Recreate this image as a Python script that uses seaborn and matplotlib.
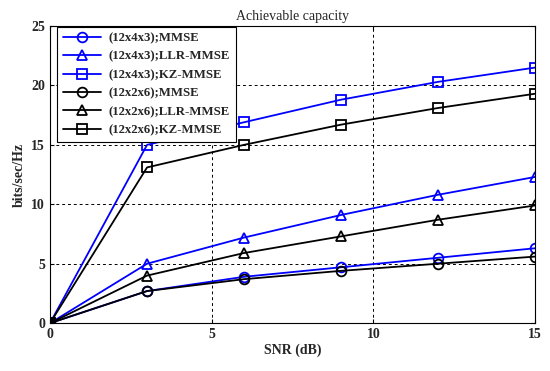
import matplotlib
matplotlib.use("Agg")
import matplotlib.pyplot as plt
import seaborn as sns
import pandas as pd

snr = [0, 3, 6, 9, 12, 15]
labels = ["(12x4x3);MMSE", "(12x4x3);LLR-MMSE", "(12x4x3);KZ-MMSE",
          "(12x2x6);MMSE", "(12x2x6);LLR-MMSE", "(12x2x6);KZ-MMSE"]
mmse_443 = [0, 2.7, 3.9, 4.7, 5.5, 6.3]
llr_443 = [0, 5.0, 7.2, 9.1, 10.8, 12.3]
kz_443 = [0, 15.0, 16.9, 18.8, 20.3, 21.5]
mmse_226 = [0, 2.7, 3.7, 4.4, 5.0, 5.6]
llr_226 = [0, 4.0, 5.9, 7.3, 8.7, 9.9]
kz_226 = [0, 13.1, 15.0, 16.7, 18.1, 19.3]
series = [mmse_443, llr_443, kz_443, mmse_226, llr_226, kz_226]
colors = ["#0000ff"] * 3 + ["#000000"] * 3
markers = ["o", "^", "s", "o", "^", "s"]

sns.set_style("white")
plt.rcParams['font.family'] = ['Liberation Serif', 'DejaVu Serif']

fig = plt.figure(figsize=(5.5, 3.71), dpi=100)
ax = fig.add_axes([0.091, 0.129, 0.882, 0.801])

for lab, vals, c, m in zip(labels, series, colors, markers):
    df = pd.DataFrame({"x": snr, "y": vals})
    sns.lineplot(data=df, x="x", y="y", ax=ax, color=c, marker=m,
                 markerfacecolor="none", markeredgecolor=c, markersize=7,
                 markeredgewidth=1.3, linewidth=1.3, label=lab)

ax.set_xlim(0, 15)
ax.set_ylim(0, 25)
ax.set_xticks([0, 5, 10, 15])
ax.set_yticks([0, 5, 10, 15, 20, 25])
ax.grid(True, color="black", linestyle=(0, (3, 3)), linewidth=0.7)
for s in ax.spines.values():
    s.set_color("black")
    s.set_linewidth(0.8)
ax.tick_params(direction="in", length=3, color="black", labelsize=10,
               top=True, right=True, bottom=True, left=True)
for t in ax.get_xticklabels() + ax.get_yticklabels():
    t.set_fontweight("bold")
ax.set_xlabel("SNR (dB)", fontsize=10, fontweight="bold", labelpad=2)
ax.set_ylabel("bits/sec/Hz", fontsize=10, fontweight="bold", labelpad=4)
ax.set_title("Achievable capacity", fontsize=10, pad=4)

leg = ax.legend(loc="upper left", bbox_to_anchor=(0.013, 1.0), frameon=True,
                fancybox=False, edgecolor="black", framealpha=1,
                borderaxespad=0.05,
                prop={"weight": "bold", "size": 9.2}, handlelength=3.0,
                handletextpad=0.6, labelspacing=0.5, borderpad=0.45)
leg.get_frame().set_linewidth(0.8)

fig.savefig("out.png", dpi=100)
